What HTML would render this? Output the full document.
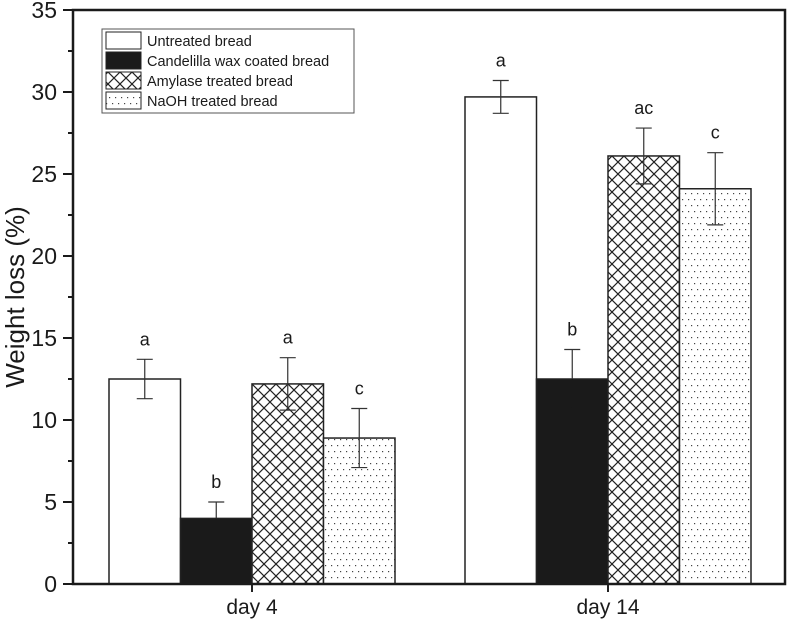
<!DOCTYPE html>
<html><head><meta charset="utf-8"><style>
body{margin:0;background:#fff}
svg text{font-family:"Liberation Sans",Arial,sans-serif;fill:#1a1a1a}
</style></head><body>
<svg id="chart" width="787" height="621" viewBox="0 0 787 621">
<defs>
<pattern id="cross" width="12" height="12" patternUnits="userSpaceOnUse">
<rect width="12" height="12" fill="#fff"/>
<path d="M0 0L12 12M12 0L0 12" stroke="#222" stroke-width="1.2"/>
</pattern>
<pattern id="dots" width="6" height="12" patternUnits="userSpaceOnUse">
<rect width="6" height="12" fill="#fff"/>
<rect x="1" y="1" width="1.2" height="1.2" fill="#444"/>
<rect x="4" y="7" width="1.2" height="1.2" fill="#444"/>
</pattern>
</defs>
<g id="bars"></g>
<g id="axes"></g>
</svg>
<script>
const groups = ["day 4", "day 14"];
const seriesNames = ["Untreated bread", "Candelilla wax coated bread", "Amylase treated bread", "NaOH treated bread"];
const untreated = [12.5, 29.7];
const wax = [4.0, 12.5];
const amylase = [12.2, 26.1];
const naoh = [8.9, 24.1];
const untreatedErr = [1.2, 1.0];
const waxErr = [1.0, 1.8];
const amylaseErr = [1.6, 1.7];
const naohErr = [1.8, 2.2];
const letters = [["a","a"],["b","b"],["a","ac"],["c","c"]];
const yTicks = [0,5,10,15,20,25,30,35];

const NS="http://www.w3.org/2000/svg";
const X0=73,X1=785,Y0=584,YT=10,YMAX=35;
const y=v=>Y0-(v/YMAX)*(Y0-YT);
const centers=[252,608], BW=71.5;
const series=[untreated,wax,amylase,naoh];
const errs=[untreatedErr,waxErr,amylaseErr,naohErr];
const fills=["#fff","#1a1a1a","url(#cross)","url(#dots)"];
const slugs=["untreated","wax","amylase","naoh"];
function mk(tag,attrs,parent){const e=document.createElementNS(NS,tag);for(const k in attrs)e.setAttribute(k,attrs[k]);parent.appendChild(e);return e;}
const bars=document.getElementById('bars'), axes=document.getElementById('axes');
groups.forEach((g,gi)=>{
  series.forEach((s,si)=>{
    const x=centers[gi]+(si-2)*BW;
    const r=mk('rect',{x:x,y:y(s[gi]),width:BW,height:Y0-y(s[gi]),fill:fills[si],stroke:"#222","stroke-width":1.5},bars);
    
    
    const cx=x+BW/2, top=y(s[gi]), hi=y(s[gi]+errs[si][gi]), lo=y(s[gi]-errs[si][gi]);
    const lowCol = si===1 ? "#1a1a1a" : "#333";
    const eb=mk('path',{d:`M${cx} ${top}V${hi}M${cx-8} ${hi}H${cx+8}`,stroke:"#333","stroke-width":1.2,fill:"none"},bars);
    
    
    const eb2=mk('path',{d:`M${cx} ${top}V${lo}M${cx-8} ${lo}H${cx+8}`,stroke:lowCol,"stroke-width":1.2,fill:"none"},bars);
    
    
    const t=mk('text',{x:cx,y:hi-14,"text-anchor":"middle","font-size":18},bars);
    t.textContent=letters[si][gi];
    
    
  });
  const gl=mk('text',{x:centers[gi],y:614,"text-anchor":"middle","font-size":21},axes);
  gl.textContent=g;
  
  
  mk('line',{x1:centers[gi],x2:centers[gi],y1:Y0,y2:Y0+8,stroke:"#222","stroke-width":2},axes);
});
const frame=mk('rect',{x:X0,y:YT,width:X1-X0,height:Y0-YT,fill:"none",stroke:"#1a1a1a","stroke-width":2.5},axes);


yTicks.forEach((v,i)=>{
  mk('line',{x1:X0-10,x2:X0,y1:y(v),y2:y(v),stroke:"#1a1a1a","stroke-width":2},axes);
  if(i<yTicks.length-1){const m=v+2.5;mk('line',{x1:X0-5,x2:X0,y1:y(m),y2:y(m),stroke:"#1a1a1a","stroke-width":2},axes);}
  const t=mk('text',{x:X0-16,y:y(v)+8,"text-anchor":"end","font-size":23},axes);
  t.textContent=v;
  
  
});
const yt=mk('text',{x:0,y:0,"text-anchor":"middle","font-size":26,transform:`translate(24,${(Y0+YT)/2}) rotate(-90)`},axes);
yt.textContent="Weight loss (%)";


const lg=mk('g',{},axes);


mk('rect',{x:102,y:29,width:252,height:84,fill:"#fff",stroke:"#555","stroke-width":1},lg);
seriesNames.forEach((n,i)=>{
  const yy=32+i*20;
  const sw=mk('rect',{x:106,y:yy,width:35,height:17,fill:fills[i],stroke:"#222","stroke-width":1},lg);
  
  
  const t=mk('text',{x:147,y:yy+14,"font-size":14.5},lg);
  t.textContent=n;
  
  
});
</script>
</body></html>
